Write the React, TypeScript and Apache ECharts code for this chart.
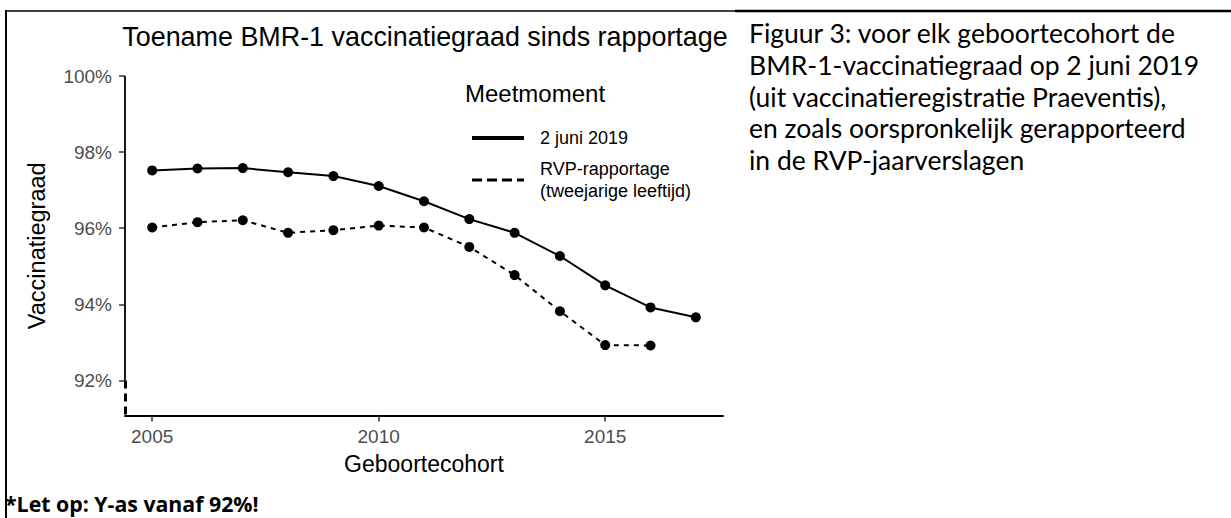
import React, { useEffect, useRef } from "react";
import * as echarts from "echarts";

// ---- data ----
const years = [2005, 2006, 2007, 2008, 2009, 2010, 2011, 2012, 2013, 2014, 2015, 2016, 2017];
const juni2019 = [97.52, 97.57, 97.58, 97.47, 97.37, 97.11, 96.71, 96.24, 95.88, 95.27, 94.5, 93.92, 93.66];
const rvpRapportage = [96.02, 96.16, 96.21, 95.88, 95.95, 96.07, 96.02, 95.51, 94.77, 93.82, 92.93, 92.92, null];
const yTicks = [92, 94, 96, 98, 100];
const xTicks = [2005, 2010, 2015];
const seriesNames = ["2 juni 2019", "RVP-rapportage\n(tweejarige leeftijd)"];
const chartTitle = "Toename BMR-1 vaccinatiegraad sinds rapportage";
const legendTitle = "Meetmoment";
const yTitle = "Vaccinatiegraad";
const xTitle = "Geboortecohort";
const captionLines = [
  "Figuur 3: voor elk geboortecohort de",
  "BMR-1-vaccinatiegraad op 2 juni 2019",
  "(uit vaccinatieregistratie Praeventis),",
  "en zoals oorspronkelijk gerapporteerd",
  "in de RVP-jaarverslagen",
];
const note = "*Let op: Y-as vanaf 92%!";

const X_MIN = 2004.4;
const X_MAX = 2017.6;
const Y_MIN = 91.08;
const Y_MAX = 100;
const Y_BREAK = 92;

const FONT = "'Liberation Sans', Arial, sans-serif";
const DOC_FONT = "Lato, 'Open Sans', sans-serif";
const NOTE_FONT = "'Open Sans', 'Noto Sans', sans-serif";

export default function App() {
  const ref = useRef<HTMLDivElement>(null);

  useEffect(() => {
    if (!ref.current) return;
    const chart = echarts.init(ref.current, undefined, { renderer: "svg" });

    const solidData = years.map((y, i) => [y, juni2019[i]]);
    const dashedData = years
      .map((y, i) => [y, rvpRapportage[i]])
      .filter((d) => d[1] !== null);

    const captionTexts = captionLines.map((line, i) => ({
      type: "text",
      x: 749,
      y: 33 + i * 31.8,
      style: {
        text: line,
        font: `26.5px ${DOC_FONT}`,
        fill: "#000",
        textAlign: "left",
        textVerticalAlign: "middle",
      },
    }));

    const option: any = {
      animation: false,
      backgroundColor: "#ffffff",
      textStyle: { fontFamily: FONT },
      grid: { left: 125, top: 76, width: 598, height: 339.5, containLabel: false },
      xAxis: {
        type: "value",
        min: X_MIN,
        max: X_MAX,
        name: xTitle,
        nameLocation: "middle",
        nameGap: 37,
        nameTextStyle: { fontFamily: FONT, fontSize: 23, color: "#000" },
        splitLine: { show: false },
        axisLine: { show: true, lineStyle: { color: "#000", width: 1.8 } },
        axisTick: { show: true, length: 6, lineStyle: { color: "#333", width: 1.5 }, customValues: xTicks },
        axisLabel: {
          customValues: xTicks,
          margin: 11,
          fontSize: 19,
          fontFamily: FONT,
          color: "#4d4d4d",
          formatter: (v: number) => String(v),
        },
      },
      yAxis: {
        type: "value",
        min: Y_MIN,
        max: Y_MAX,
        name: yTitle,
        nameLocation: "middle",
        nameRotate: 90,
        nameGap: 76,
        nameTextStyle: { fontFamily: FONT, fontSize: 23.5, color: "#000" },
        splitLine: { show: false },
        axisLine: { show: false },
        axisTick: { show: true, length: 6, lineStyle: { color: "#333", width: 1.5 }, customValues: yTicks },
        axisLabel: {
          customValues: yTicks,
          margin: 13,
          fontSize: 19,
          fontFamily: FONT,
          color: "#4d4d4d",
          formatter: (v: number) => v + "%",
        },
      },
      legend: {
        orient: "vertical",
        left: 467,
        top: 122,
        itemWidth: 52,
        itemHeight: 4,
        itemGap: 9,
        selectedMode: false,
        textStyle: { fontFamily: FONT, fontSize: 18, color: "#000", lineHeight: 22, padding: [0, 0, 0, 11] },
        data: [
          { name: seriesNames[0], icon: "rect" },
          {
            name: seriesNames[1],
            icon: "path://M0,0h10v3h-10z M15,0h10v3h-10z M30,0h10v3h-10z M45,0h7v3h-7z",
          },
        ],
      },
      graphic: [
        { type: "line", shape: { x1: 5, y1: 11, x2: 736, y2: 11 }, style: { stroke: "#000", lineWidth: 1.5 } },
        { type: "line", shape: { x1: 735, y1: 11, x2: 1231, y2: 11 }, style: { stroke: "#000", lineWidth: 2.5 } },
        { type: "line", shape: { x1: 6, y1: 10, x2: 6, y2: 518 }, style: { stroke: "#000", lineWidth: 2 } },
        {
          type: "text",
          x: 425,
          y: 37,
          style: { text: chartTitle, font: `26.9px ${FONT}`, fill: "#000", textAlign: "center", textVerticalAlign: "middle" },
        },
        {
          type: "text",
          x: 465,
          y: 93,
          style: { text: legendTitle, font: `24px ${FONT}`, fill: "#000", textAlign: "left", textVerticalAlign: "middle" },
        },
        ...captionTexts,
        {
          type: "text",
          x: 5,
          y: 503,
          style: { text: note, font: `bold 21.3px ${NOTE_FONT}`, fill: "#000", textAlign: "left", textVerticalAlign: "middle" },
        },
      ],
      series: [
        {
          name: seriesNames[0],
          type: "line",
          data: solidData,
          clip: false,
          symbol: "circle",
          symbolSize: 10,
          itemStyle: { color: "#000" },
          lineStyle: { color: "#000", width: 2, type: "solid" },
          emphasis: { disabled: true },
          markLine: {
            silent: true,
            symbol: ["none", "none"],
            label: { show: false },
            emphasis: { disabled: true },
            data: [
              [
                { coord: [X_MIN, Y_BREAK], lineStyle: { type: "solid", width: 1.8, color: "#000" } },
                { coord: [X_MIN, Y_MAX] },
              ],
              [
                { coord: [X_MIN, Y_BREAK], lineStyle: { type: [8, 5], width: 3, color: "#000" } },
                { coord: [X_MIN, Y_MIN] },
              ],
            ],
          },
        },
        {
          name: seriesNames[1],
          type: "line",
          data: dashedData,
          clip: false,
          symbol: "circle",
          symbolSize: 10,
          itemStyle: { color: "#000" },
          lineStyle: { color: "#000", width: 2, type: [5, 5] },
          emphasis: { disabled: true },
        },
      ],
    };

    chart.setOption(option);
    return () => chart.dispose();
  }, []);

  return (
    <div
      ref={ref}
      style={{ position: "fixed", left: 0, top: 0, width: 1231, height: 518, background: "#fff" }}
    />
  );
}
